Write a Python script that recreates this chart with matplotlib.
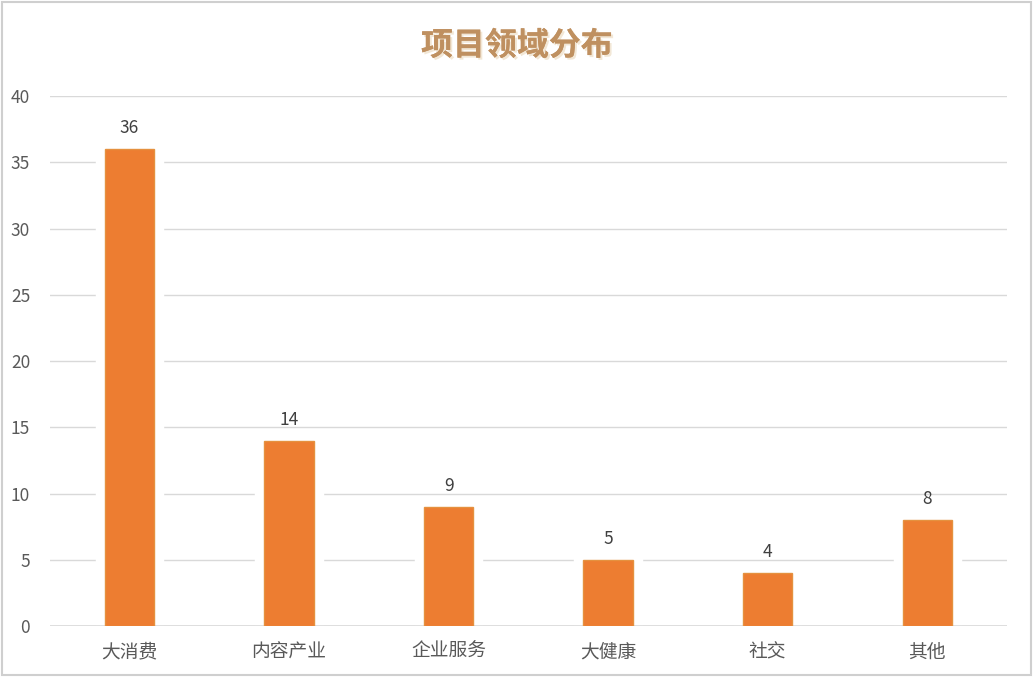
import matplotlib

matplotlib.use("Agg")
import matplotlib.pyplot as plt
import matplotlib.patheffects as pe
from matplotlib.patches import Rectangle

plt.rcParams["font.family"] = ["Noto Sans CJK SC", "DejaVu Sans"]

# data
categories = ["大消费", "内容产业", "企业服务", "大健康", "社交", "其他"]
counts = [36, 14, 9, 5, 4, 8]
y_ticks = [0, 5, 10, 15, 20, 25, 30, 35, 40]

bar_color = "#ED7D31"
grid_color = "#d9d9d9"
text_color = "#595959"

fig = plt.figure(figsize=(10.34, 6.77), dpi=100)
ax = fig.add_axes([0.048, 0.0753, 0.926, 0.7829])

x = list(range(len(categories)))

# gridlines
for t in y_ticks:
    ax.axhline(t, color=grid_color, lw=1.0, zorder=0)

# white glow around bars, hides gridlines nearby
ax.bar(x, counts, width=0.31, color="white", edgecolor="white", lw=14, zorder=1)
ax.bar(x, counts, width=0.31, color=bar_color, edgecolor="#e5913f", lw=1.0, zorder=3)
ax.axhline(0, color=grid_color, lw=1.2, zorder=2)

for xi, v in zip(x, counts):
    ax.text(xi, v + 0.9, str(v), ha="center", va="bottom", fontsize=12.5,
            color="#404040", zorder=4)

ax.set_xlim(-0.5, len(categories) - 0.5)
ax.set_ylim(0, 40)
ax.set_yticks(y_ticks)
ax.set_xticks(x)
ax.set_xticklabels(categories)
ax.tick_params(axis="y", length=0, labelsize=12.5, colors=text_color, pad=14)
ax.tick_params(axis="x", length=0, labelsize=13.5, colors=text_color, pad=11)
for s in ax.spines.values():
    s.set_visible(False)

fig.text(0.5, 0.932, "项目领域分布", ha="center", va="center", fontsize=23,
         fontweight="bold", color="#bf9060",
         path_effects=[pe.withSimplePatchShadow(offset=(1.5, -1.5), shadow_rgbFace="#efe2cc", alpha=0.8),
                       pe.Normal()])

# light frame around the picture
fig.patches.append(Rectangle((0.002, 0.003), 0.995, 0.994, transform=fig.transFigure,
                             fill=False, edgecolor="#cfcfcf", lw=1.5))

fig.savefig("out.png", dpi=100, facecolor="white")
